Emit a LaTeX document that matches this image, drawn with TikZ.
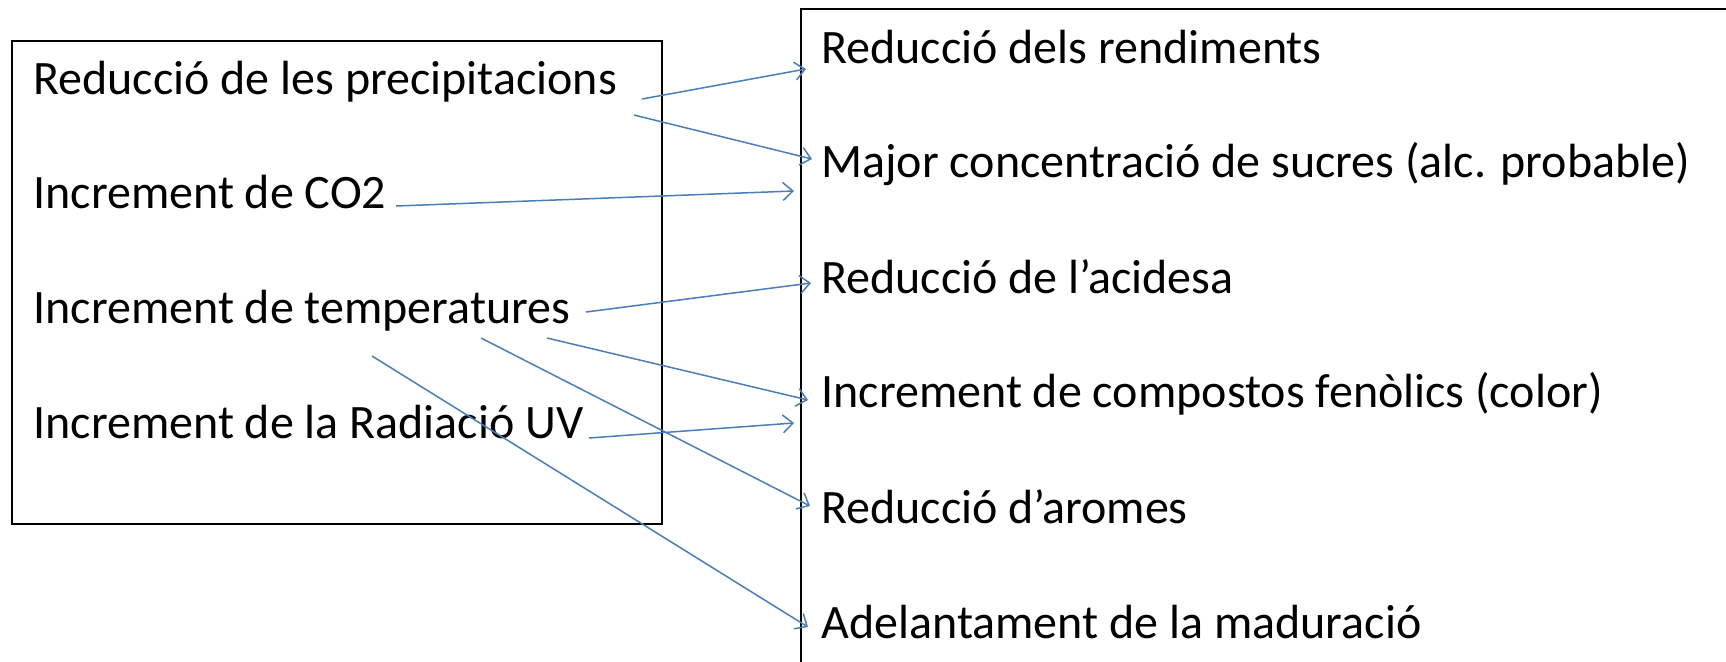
\documentclass[tikz,border=0pt]{standalone}
\usepackage{fontspec}
\setmainfont{Carlito}
\usepackage{xcolor}
\usepackage{tikz}
\usetikzlibrary{arrows.meta,positioning,calc}
\definecolor{linkblue}{RGB}{74,126,187}

\begin{document}
\begin{tikzpicture}[
    x=0.5pt, y=-0.5pt,
    panel/.style={draw, line width=1.1pt, anchor=north west, inner sep=0pt},
    item/.style={anchor=base west, inner sep=0pt, font=\fontsize{24}{29}\selectfont},
    link/.style={linkblue, line width=0.75pt, -{Straight Barb[length=5pt,width=9pt]}}
]
    \useasboundingbox (0,0) rectangle (1726,661);
    \clip (0,0) rectangle (1726,661);

    % Panels
    \node[panel, minimum width=325pt, minimum height=241.5pt] (causes) at (11,40) {};
    \node[panel, minimum width=480pt, minimum height=345pt] (effects) at (800,8) {};

    % Causes
    \node[item] (prec) at (33,94) {Reducció de les precipitacions};
    \node[item] (co2) at (33,208) {Increment de CO2};
    \node[item] (temp) at (33,323) {Increment de temperatures};
    \node[item] (uv) at (33,438) {Increment de la Radiació UV};

    % Effects
    \node[item] (rend) at (821,63) {Reducció dels rendiments};
    \node[item] (sucres) at (821,177) {Major concentració de sucres (alc. probable)};
    \node[item] (acid) at (821,293) {Reducció de l’acidesa};
    \node[item] (fenol) at (821,407) {Increment de compostos fenòlics (color)};
    \node[item] (aromes) at (821,523) {Reducció d’aromes};
    \node[item] (madur) at (821,638) {Adelantament de la maduració};

    % Connections
    \draw[link] ([shift={(609,5)}]prec.base west) -- ([shift={(-15,6)}]rend.base west);
    \draw[link] ([shift={(601,21)}]prec.base west) -- ([shift={(-9,-18)}]sucres.base west);
    \draw[link] ([shift={(363,-2)}]co2.base west) -- ([shift={(-27,14)}]sucres.base west);
    \draw[link] ([shift={(553,-11)}]temp.base west) -- ([shift={(-10,-10)}]acid.base west);
    \draw[link] ([shift={(514,15)}]temp.base west) -- ([shift={(-13,-7)}]fenol.base west);
    \draw[link] ([shift={(448,15)}]temp.base west) -- ([shift={(-11,-17)}]aromes.base west);
    \draw[link] ([shift={(339,33)}]temp.base west) -- ([shift={(-13,-11)}]madur.base west);
    \draw[link] ([shift={(556,0)}]uv.base west) -- ([shift={(-27,16)}]fenol.base west);
\end{tikzpicture}
\end{document}
